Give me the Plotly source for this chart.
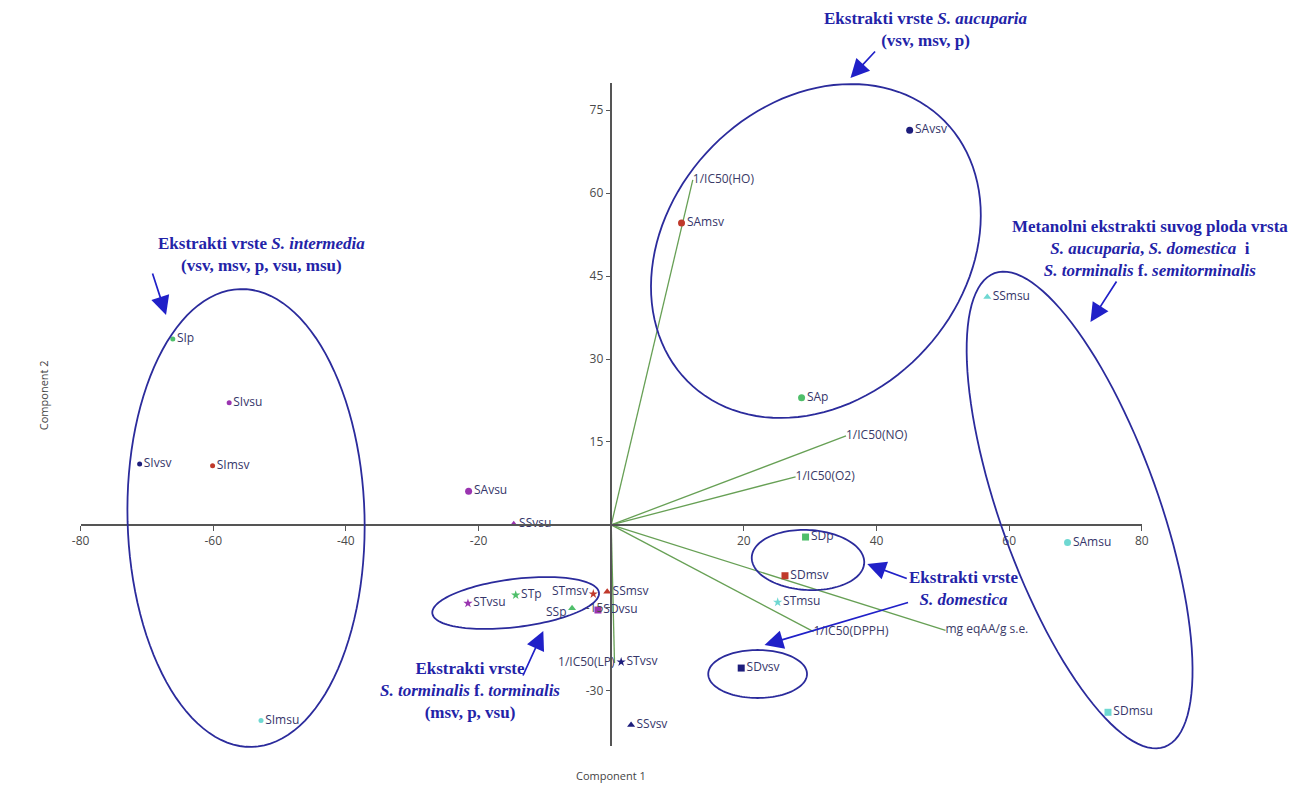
import math
import plotly.graph_objects as go

# ---- PCA scores of the extracts (Component 1, Component 2) ----
samples = ["SAvsv", "SAmsv", "SAp", "SAvsu", "SAmsu",
           "SIvsv", "SImsv", "SIp", "SIvsu", "SImsu",
           "STvsv", "STmsv", "STp", "STvsu", "STmsu",
           "SSvsv", "SSmsv", "SSp", "SSvsu", "SSmsu",
           "SDvsv", "SDmsv", "SDp", "SDvsu", "SDmsu"]
pc1 = [45.0, 10.6, 28.7, -21.5, 68.8,
       -71.1, -60.1, -66.1, -57.6, -52.8,
       1.5, -2.7, -14.4, -21.6, 25.1,
       3.0, -0.6, -5.9, -14.7, 56.7,
       19.6, 26.2, 29.3, -2.0, 74.9]
pc2 = [71.4, 54.6, 23.0, 6.1, -3.2,
       11.0, 10.7, 33.6, 22.1, -35.4,
       -24.8, -12.5, -12.7, -14.2, -14.0,
       -36.2, -12.1, -15.1, 0.1, 41.2,
       -25.9, -9.2, -2.2, -15.4, -33.9]

# ---- variable loadings (biplot vectors) ----
variables = ["1/IC50(HO)", "1/IC50(NO)", "1/IC50(O2)", "1/IC50(DPPH)",
             "mg eqAA/g s.e.", "1/IC50(LP)"]
load1 = [12.3, 35.4, 27.8, 30.5, 50.4, 0.5]
load2 = [62.4, 16.1, 8.7, -19.3, -19.1, -25.0]

x_ticks = [-80, -60, -40, -20, 20, 40, 60, 80]
y_ticks = [-30, -15, 15, 30, 45, 60, 75]

# ---- styling ----
W, H = 1294, 792
extract_colors = {"vsv": "#1d1d7c", "msv": "#c0392b", "p": "#4fbf6a",
                  "vsu": "#9a34b0", "msu": "#6fd8d2"}
species_symbols = {"SA": ("circle", 7), "SI": ("circle", 5), "ST": ("star", 7),
                   "SS": ("triangle-up", 7), "SD": ("square", 7)}
# labels drawn on the left of their marker, with a small vertical nudge (px)
left_labels = {"STmsv": 3, "SSp": -3}
label_font = dict(family="Open Sans, DejaVu Sans, sans-serif", size=12, color="#35356a")
note_color = "#2323a8"
ring_color = "#2b2b9c"
arrow_color = "#2020c8"


def fx(p):
    return p / W


def fy(p):
    return 1 - p / H


fig = go.Figure()

# loading vectors from the origin
vx, vy = [], []
for a, b in zip(load1, load2):
    vx += [0, a, None]
    vy += [0, b, None]
fig.add_trace(go.Scatter(x=vx, y=vy, mode="lines",
                         line=dict(color="#67a055", width=1.3),
                         hoverinfo="skip", showlegend=False, cliponaxis=False))
fig.add_trace(go.Scatter(
    x=load1, y=load2, mode="text", text=variables,
    textposition=["middle left" if v == "1/IC50(LP)" else "middle right" for v in variables],
    textfont=dict(family="Open Sans, DejaVu Sans, sans-serif", size=12, color="#3a3a66"),
    showlegend=False, cliponaxis=False))

# sample scores, one trace per species
for sp, (sym, size) in species_symbols.items():
    idx = [i for i, s in enumerate(samples) if s[:2] == sp]
    names = [samples[i] for i in idx]
    fig.add_trace(go.Scatter(
        x=[pc1[i] for i in idx], y=[pc2[i] for i in idx],
        mode="markers+text",
        text=["" if n in left_labels else n for n in names],
        textposition="middle right",
        textfont=label_font,
        marker=dict(symbol=sym, size=size,
                    color=[extract_colors[n[2:]] for n in names], line=dict(width=0)),
        showlegend=False, cliponaxis=False))


# group outlines (drawn in screen space)
def ellipse_path(cx, cy, a, b, theta_deg, n=120):
    t = math.radians(theta_deg)
    ux, uy = math.cos(t), -math.sin(t)
    vx_, vy_ = math.sin(t), math.cos(t)
    pts = []
    for k in range(n + 1):
        s = 2 * math.pi * k / n
        px = cx + a * math.cos(s) * ux + b * math.sin(s) * vx_
        py = cy + a * math.cos(s) * uy + b * math.sin(s) * vy_
        pts.append(f"{fx(px):.5f},{fy(py):.5f}")
    return "M " + " L ".join(pts) + " Z"


rings = [
    (817, 251, 184, 148, 45),     # S. aucuparia
    (240, 518, 229, 120, 91.5),   # S. intermedia
    (1084, 510, 252, 80, 110),    # methanolic dry-fruit extracts
    (809, 560, 57, 30, -3),       # S. domestica (p, msv)
    (758, 674, 50, 24, 0),        # S. domestica (vsv)
    (513, 603, 85, 24, 7),        # S. torminalis f. torminalis
]
shapes = [dict(type="path", xref="paper", yref="paper",
               path=ellipse_path(*r), line=dict(color=ring_color, width=1.8),
               layer="above") for r in rings]

annotations = []

# sample labels placed left of the marker
for name, dy in left_labels.items():
    i = samples.index(name)
    annotations.append(dict(x=pc1[i], y=pc2[i], xref="x", yref="y", text=name,
                            showarrow=False, xanchor="right", yanchor="middle",
                            xshift=-3, yshift=dy, font=label_font))

# arrows: (tip x, tip y, tail x, tail y) in screen pixels
arrows = [
    (852, 78, 878, 50),
    (159, 315, 145, 272),
    (1095, 322, 1122, 280),
    (869, 564, 910, 579),
    (765, 645, 910, 602),
    (541, 631, 520, 677),
]
for tx, ty, sx, sy in arrows:
    annotations.append(dict(x=fx(tx), y=fy(ty), xref="paper", yref="paper",
                            ax=sx - tx, ay=sy - ty, text="", showarrow=True,
                            arrowhead=2, arrowsize=2.2, arrowwidth=1.7,
                            arrowcolor=arrow_color))

notes = [
    (928, 29, "<b>Ekstrakti vrste <i>S. aucuparia</i></b><br><b>(vsv, msv, p)</b>"),
    (256, 254, "<b>Ekstrakti vrste <i>S. intermedia</i></b><br><b>(vsv, msv, p, vsu, msu)</b>"),
    (1155, 248, "<b>Metanolni ekstrakti suvog ploda vrsta</b><br>"
                "<b><i>S. aucuparia</i>, <i>S. domestica</i>  i</b><br>"
                "<b><i>S. torminalis</i> f. <i>semitorminalis</i></b>"),
    (967, 588, "<b>Ekstrakti vrste</b><br><b><i>S. domestica</i></b>"),
    (467, 690, "<b>Ekstrakti vrste</b><br><b><i>S. torminalis</i> f. <i>torminalis</i></b><br>"
               "<b>(msv, p, vsu)</b>"),
]
for cx, cy, txt in notes:
    annotations.append(dict(x=fx(cx), y=fy(cy), xref="paper", yref="paper",
                            text=txt, showarrow=False, align="center",
                            xanchor="center", yanchor="middle",
                            font=dict(family="Liberation Serif, Times New Roman, serif",
                                      size=17, color=note_color)))

axis_font = dict(family="Open Sans, DejaVu Sans, sans-serif", size=11, color="#444444")
annotations.append(dict(x=fx(610), y=fy(785), xref="paper", yref="paper",
                        text="Component 1", showarrow=False, font=axis_font))
annotations.append(dict(x=fx(25), y=fy(395), xref="paper", yref="paper",
                        text="Component 2", showarrow=False, textangle=-90,
                        font=axis_font))

tick_font = dict(family="Open Sans, DejaVu Sans, sans-serif", size=12, color="#4a4a4a")
fig.update_layout(
    width=W, height=H, margin=dict(l=0, r=0, t=0, b=0),
    paper_bgcolor="white", plot_bgcolor="white",
    shapes=shapes, annotations=annotations,
    xaxis=dict(domain=[fx(72.5), fx(1147)], range=[-80, 80],
               anchor="free", position=fy(525),
               tickvals=x_ticks, ticktext=[str(v) for v in x_ticks],
               ticks="outside", ticklen=5, tickcolor="#555555", tickwidth=1.3,
               showline=True, linecolor="#555555", linewidth=1.5,
               showgrid=False, zeroline=False, tickfont=tick_font),
    yaxis=dict(domain=[fy(746), fy(82.6)], range=[-40, 80],
               anchor="free", position=fx(610),
               tickvals=y_ticks, ticktext=[str(v) for v in y_ticks],
               ticks="outside", ticklen=5, tickcolor="#555555", tickwidth=1.3,
               showline=True, linecolor="#555555", linewidth=1.5,
               showgrid=False, zeroline=False, tickfont=tick_font),
)

fig.write_html("out.html")
